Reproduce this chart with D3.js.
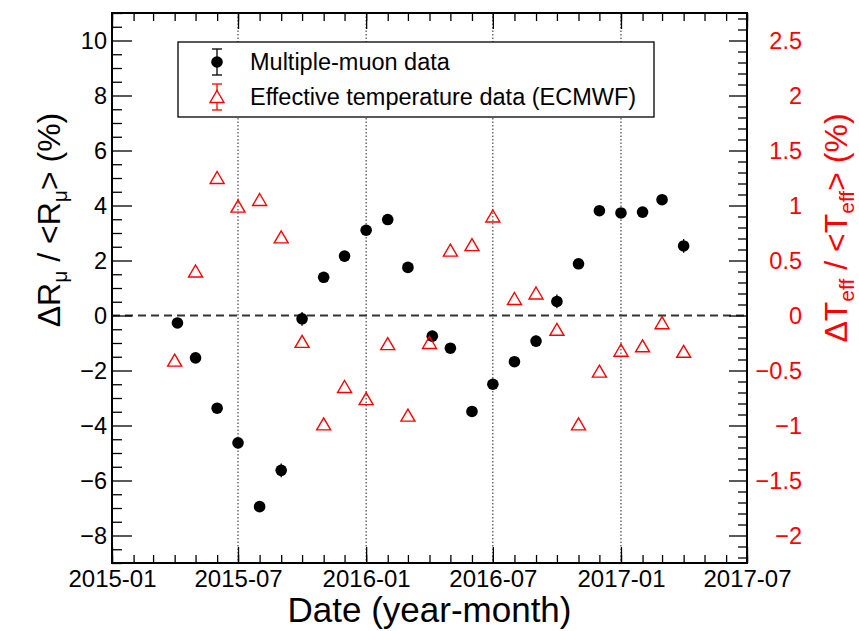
<!DOCTYPE html>
<html>
<head>
<meta charset="utf-8">
<script src="https://cdn.jsdelivr.net/npm/d3@7"></script>
<style>
  html, body { margin: 0; padding: 0; background: #fff; }
  svg { display: block; font-family: "Liberation Sans", Arial, Helvetica, sans-serif; }
</style>
</head>
<body>
<svg id="chart" width="859" height="631"></svg>
<script>
// ---- data ----
const muonDates = ["2015-04-05","2015-05-01","2015-06-01","2015-07-01","2015-08-01","2015-09-01","2015-10-01","2015-11-01","2015-12-01","2016-01-01","2016-02-01","2016-03-01","2016-04-05","2016-05-01","2016-06-01","2016-07-01","2016-08-01","2016-09-01","2016-10-01","2016-11-01","2016-12-01","2017-01-01","2017-02-01","2017-03-01","2017-04-01"];
const muonVals = [-0.27,-1.54,-3.37,-4.63,-6.95,-5.63,-0.12,1.39,2.16,3.10,3.49,1.75,-0.75,-1.19,-3.49,-2.50,-1.68,-0.93,0.51,1.88,3.81,3.73,3.76,4.21,2.53];
const muonErrs = [0.15,0.15,0.15,0.15,0.15,0.25,0.25,0.15,0.15,0.15,0.15,0.15,0.2,0.15,0.15,0.15,0.15,0.2,0.25,0.15,0.15,0.15,0.15,0.15,0.25];
const tempDates = ["2015-04-01","2015-05-01","2015-06-01","2015-07-01","2015-08-01","2015-09-01","2015-10-01","2015-11-01","2015-12-01","2016-01-01","2016-02-01","2016-03-01","2016-04-01","2016-05-01","2016-06-01","2016-07-01","2016-08-01","2016-09-01","2016-10-01","2016-11-01","2016-12-01","2017-01-01","2017-02-01","2017-03-01","2017-04-01"];
const tempVals = [-0.41,0.40,1.25,0.99,1.05,0.71,-0.24,-0.99,-0.65,-0.76,-0.26,-0.91,-0.25,0.59,0.64,0.90,0.15,0.20,-0.13,-0.99,-0.51,-0.32,-0.28,-0.07,-0.33];
const xTickLabels = ["2015-01","2015-07","2016-01","2016-07","2017-01","2017-07"];
const gridDates = ["2015-07","2016-01","2016-07","2017-01"];
const leftTicks = [-8,-6,-4,-2,0,2,4,6,8,10];
const rightTicks = [-2,-1.5,-1,-0.5,0,0.5,1,1.5,2,2.5];
const legendLabels = ["Multiple-muon data","Effective temperature data (ECMWF)"];

// ---- layout ----
const X0 = 112, X1 = 747, Y0 = 13, Y1 = 563;
const RED = "#ff0000";
const FONT = "Liberation Sans, Arial, Helvetica, sans-serif";
const parseDay = d3.utcParse("%Y-%m-%d");
const parseMonth = d3.utcParse("%Y-%m");

const x = d3.scaleUtc().domain([parseMonth("2015-01"), parseMonth("2017-07")]).range([X0, X1]);
const yL = d3.scaleLinear().domain([-9, 11]).range([Y1, Y0]);
const yR = d3.scaleLinear().domain([-2.25, 2.75]).range([Y1, Y0]);

const svg = d3.select("#chart");

// grid lines (dotted verticals)
svg.append("g").selectAll("line").data(gridDates.map(parseMonth)).join("line")
  .attr("x1", d => x(d)).attr("x2", d => x(d))
  .attr("y1", Y0).attr("y2", Y1)
  .attr("stroke", "#222").attr("stroke-width", 1).attr("stroke-dasharray", "1.5,2");

// zero dashed line
svg.append("line")
  .attr("x1", X0).attr("x2", X1).attr("y1", yL(0)).attr("y2", yL(0))
  .attr("stroke", "#333").attr("stroke-width", 2).attr("stroke-dasharray", "8,5");

// minor ticks values
const monthTicks = d3.utcMonth.range(parseMonth("2015-01"), d3.utcMonth.offset(parseMonth("2017-07"), 1));
const majorDates = xTickLabels.map(parseMonth);
const leftMinor = d3.range(-9, 11.001, 0.5).filter(v => Math.abs(v % 2) > 1e-6);
const rightMinor = d3.range(-22, 28).map(v => v / 10).filter(v => Math.abs((v * 10) % 5) > 1e-6);

function styleAxis(g) {
  g.attr("font-family", FONT);
  g.select(".domain").remove();
  g.selectAll("line").attr("stroke", "#000").attr("stroke-width", 1.3);
}

// bottom axis
const gB = svg.append("g").attr("transform", `translate(0,${Y1})`);
gB.call(d3.axisBottom(x).tickValues(majorDates).tickFormat(d3.utcFormat("%Y-%m")).tickSizeInner(-16).tickSizeOuter(0).tickPadding(7))
  .call(styleAxis);
gB.selectAll("text").attr("font-size", 24).attr("fill", "#000").attr("dy", "0.71em");
svg.append("g").attr("transform", `translate(0,${Y1})`)
  .call(d3.axisBottom(x).tickValues(monthTicks).tickFormat("").tickSizeInner(-8).tickSizeOuter(0)).call(styleAxis);

// top axis (mirrored ticks)
svg.append("g").attr("transform", `translate(0,${Y0})`)
  .call(d3.axisTop(x).tickValues(majorDates).tickFormat("").tickSizeInner(-16).tickSizeOuter(0)).call(styleAxis);
svg.append("g").attr("transform", `translate(0,${Y0})`)
  .call(d3.axisTop(x).tickValues(monthTicks).tickFormat("").tickSizeInner(-8).tickSizeOuter(0)).call(styleAxis);

// left axis
const gL = svg.append("g").attr("transform", `translate(${X0},0)`);
gL.call(d3.axisLeft(yL).tickValues(leftTicks).tickFormat(d3.format("~g")).tickSizeInner(-20).tickSizeOuter(0).tickPadding(5))
  .call(styleAxis);
gL.selectAll("text").attr("font-size", 23.5).attr("fill", "#000").attr("text-anchor", "end").attr("x", -5);
svg.append("g").attr("transform", `translate(${X0},0)`)
  .call(d3.axisLeft(yL).tickValues(leftMinor).tickFormat("").tickSizeInner(-10).tickSizeOuter(0)).call(styleAxis);

// right axis
const gR = svg.append("g").attr("transform", `translate(${X1},0)`);
gR.call(d3.axisRight(yR).tickValues(rightTicks).tickFormat(d3.format("~g")).tickSizeInner(-18).tickSizeOuter(0))
  .call(styleAxis);
gR.selectAll("text").attr("font-size", 23.5).attr("fill", RED).attr("text-anchor", "end").attr("x", 55);
svg.append("g").attr("transform", `translate(${X1},0)`)
  .call(d3.axisRight(yR).tickValues(rightMinor).tickFormat("").tickSizeInner(-9).tickSizeOuter(0)).call(styleAxis);

// frame
svg.append("rect").attr("x", X0).attr("y", Y0).attr("width", X1 - X0).attr("height", Y1 - Y0)
  .attr("fill", "none").attr("stroke", "#000").attr("stroke-width", 2);

// muon data
const muon = muonDates.map((d, i) => ({ date: parseDay(d), v: muonVals[i], e: muonErrs[i] }));
const gM = svg.append("g");
gM.selectAll("line.err").data(muon).join("line").attr("class", "err")
  .attr("x1", d => x(d.date)).attr("x2", d => x(d.date))
  .attr("y1", d => yL(d.v - d.e)).attr("y2", d => yL(d.v + d.e))
  .attr("stroke", "#000").attr("stroke-width", 1.3);
gM.selectAll("circle").data(muon).join("circle")
  .attr("cx", d => x(d.date)).attr("cy", d => yL(d.v)).attr("r", 5.8).attr("fill", "#000");

// temperature data
const tri = "M0,-6.5L7,5.5L-7,5.5Z";
const temp = tempDates.map((d, i) => ({ date: parseDay(d), v: tempVals[i] }));
svg.append("g").selectAll("path").data(temp).join("path")
  .attr("d", tri)
  .attr("transform", d => `translate(${x(d.date)},${yR(d.v)})`)
  .attr("fill", "none").attr("stroke", RED).attr("stroke-width", 1.4);

// legend
const lg = svg.append("g");
lg.append("rect").attr("x", 178).attr("y", 42).attr("width", 476).attr("height", 75)
  .attr("fill", "#fff").attr("stroke", "#000").attr("stroke-width", 1.3);
const lx = 217, ly = [62, 97];
// muon entry
lg.append("line").attr("x1", lx).attr("x2", lx).attr("y1", ly[0] - 13).attr("y2", ly[0] + 13).attr("stroke", "#000").attr("stroke-width", 1.3);
[ly[0] - 13, ly[0] + 13].forEach(yy => lg.append("line").attr("x1", lx - 5).attr("x2", lx + 5).attr("y1", yy).attr("y2", yy).attr("stroke", "#000").attr("stroke-width", 1.3));
lg.append("circle").attr("cx", lx).attr("cy", ly[0]).attr("r", 5.8).attr("fill", "#000");
// temp entry
lg.append("line").attr("x1", lx).attr("x2", lx).attr("y1", ly[1] - 13).attr("y2", ly[1] + 13).attr("stroke", RED).attr("stroke-width", 1.3);
[ly[1] - 13, ly[1] + 13].forEach(yy => lg.append("line").attr("x1", lx - 5).attr("x2", lx + 5).attr("y1", yy).attr("y2", yy).attr("stroke", RED).attr("stroke-width", 1.3));
lg.append("path").attr("d", tri).attr("transform", `translate(${lx},${ly[1]})`).attr("fill", "#fff").attr("stroke", RED).attr("stroke-width", 1.4);
lg.selectAll("text").data(legendLabels).join("text")
  .attr("x", 250).attr("y", (d, i) => ly[i]).attr("dy", "0.35em")
  .attr("font-size", 23.5).attr("fill", "#000").text(d => d);

// axis titles
svg.append("text").attr("x", (X0 + X1) / 2).attr("y", 622).attr("text-anchor", "middle")
  .attr("font-size", 35).attr("fill", "#000").text("Date (year-month)");

function subTitle(cx, cy, base, color) {
  const t = svg.append("text").attr("transform", `translate(${cx},${cy}) rotate(-90)`)
    .attr("text-anchor", "middle").attr("font-size", 32).attr("fill", color);
  t.append("tspan").text("\u0394" + base);
  t.append("tspan").attr("font-size", 21).attr("dy", 7).text(base === "R" ? "\u03bc" : "eff");
  t.append("tspan").attr("dy", -7).text(" / <" + base);
  t.append("tspan").attr("font-size", 21).attr("dy", 7).text(base === "R" ? "\u03bc" : "eff");
  t.append("tspan").attr("dy", -7).text("> (%)");
}
subTitle(60, 220, "R", "#000");
subTitle(847, 228, "T", RED);
</script>
</body>
</html>
